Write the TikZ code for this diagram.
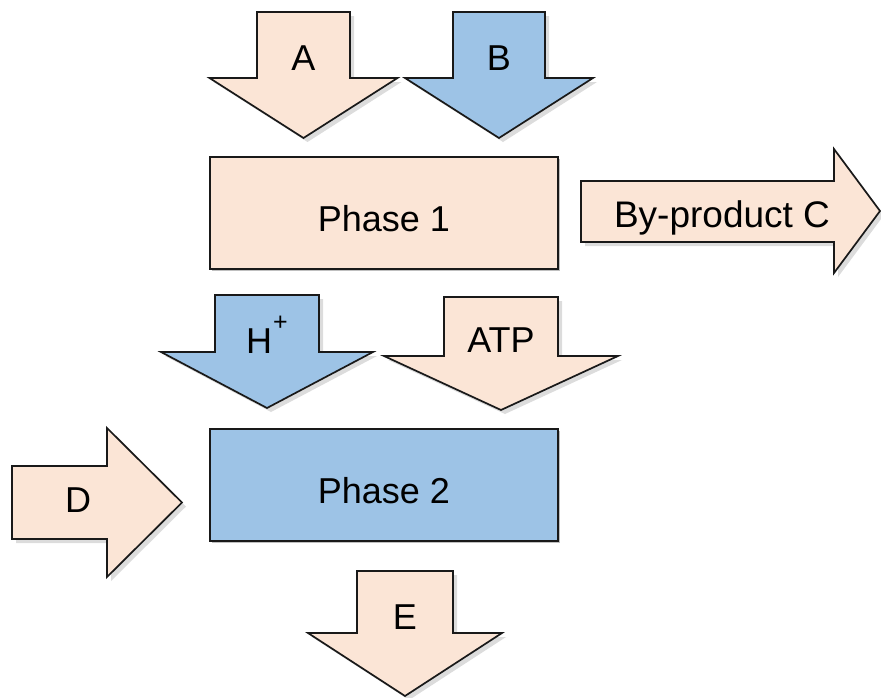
\documentclass[tikz,border=0pt]{standalone}
\usepackage{fontspec}
\setmainfont{Liberation Sans}
\usepackage{tikz}
\usetikzlibrary{shadows}
\definecolor{peach}{HTML}{FBE5D6}
\definecolor{skyblue}{HTML}{9DC3E6}
\newcommand{\plussup}{\hspace{1pt}\raisebox{23pt}{\fontsize{25}{25}\selectfont +}}

\begin{document}
\begin{tikzpicture}[x=1pt, y=-1pt,
  blockarrow/.style={draw=black!90, line width=1.7pt, line join=miter,
    drop shadow={shadow xshift=4pt, shadow yshift=-4pt, opacity=0.28}},
  phasebox/.style={draw=black!90, line width=1.7pt, minimum width=348pt, minimum height=112pt,
    text height=36pt, text depth=0pt, font=\fontsize{36}{40}\selectfont,
    drop shadow={shadow xshift=1.5pt, shadow yshift=-1.5pt, opacity=0.5}},
  lab/.style={font=\fontsize{36}{40}\selectfont, inner sep=0pt, anchor=base}
]
\useasboundingbox (0,0) rectangle (881,697);
% down arrows: name/centre/shaft half/head half/top/base/tip/baseline/colour/text
\foreach \n/\cx/\w/\h/\t/\b/\p/\bl/\col/\txt in {
  A/303.5/46.5/94/12/78/138/70/peach/A,
  B/499/46/94/12/78/138/70/skyblue/B,
  Hp/267/52/106/295/352/408/353/skyblue/{H\plussup},
  ATP/501/57/117/297/356/410/352/peach/ATP,
  E/405/48/97/571/633/696/629/peach/E} {
  \draw[blockarrow, fill=\col] (\cx-\w,\t) -- (\cx+\w,\t) -- (\cx+\w,\b) -- (\cx+\h,\b)
    -- (\cx,\p) -- (\cx-\h,\b) -- (\cx-\w,\b) -- cycle;
  \node[lab] (\n) at (\cx,\bl) {\txt};
}
% side arrows
\draw[blockarrow, fill=peach] (12,466) -- (107,466) -- (107,428) -- (182,502.5)
  -- (107,577) -- (107,539) -- (12,539) -- cycle;
\node[lab] (D) at (78,512) {D};
\draw[blockarrow, fill=peach] (581,181) -- (834,181) -- (834,149) -- (880,211)
  -- (834,273) -- (834,242) -- (581,242) -- cycle;
\node[lab, font=\fontsize{37}{40}\selectfont] (C) at (722,227) {By-product C};
% phases
\node[phasebox, fill=peach] (phase1) at (384,213) {Phase 1};
\node[phasebox, fill=skyblue] (phase2) at (384,485) {Phase 2};
\end{tikzpicture}
\end{document}
